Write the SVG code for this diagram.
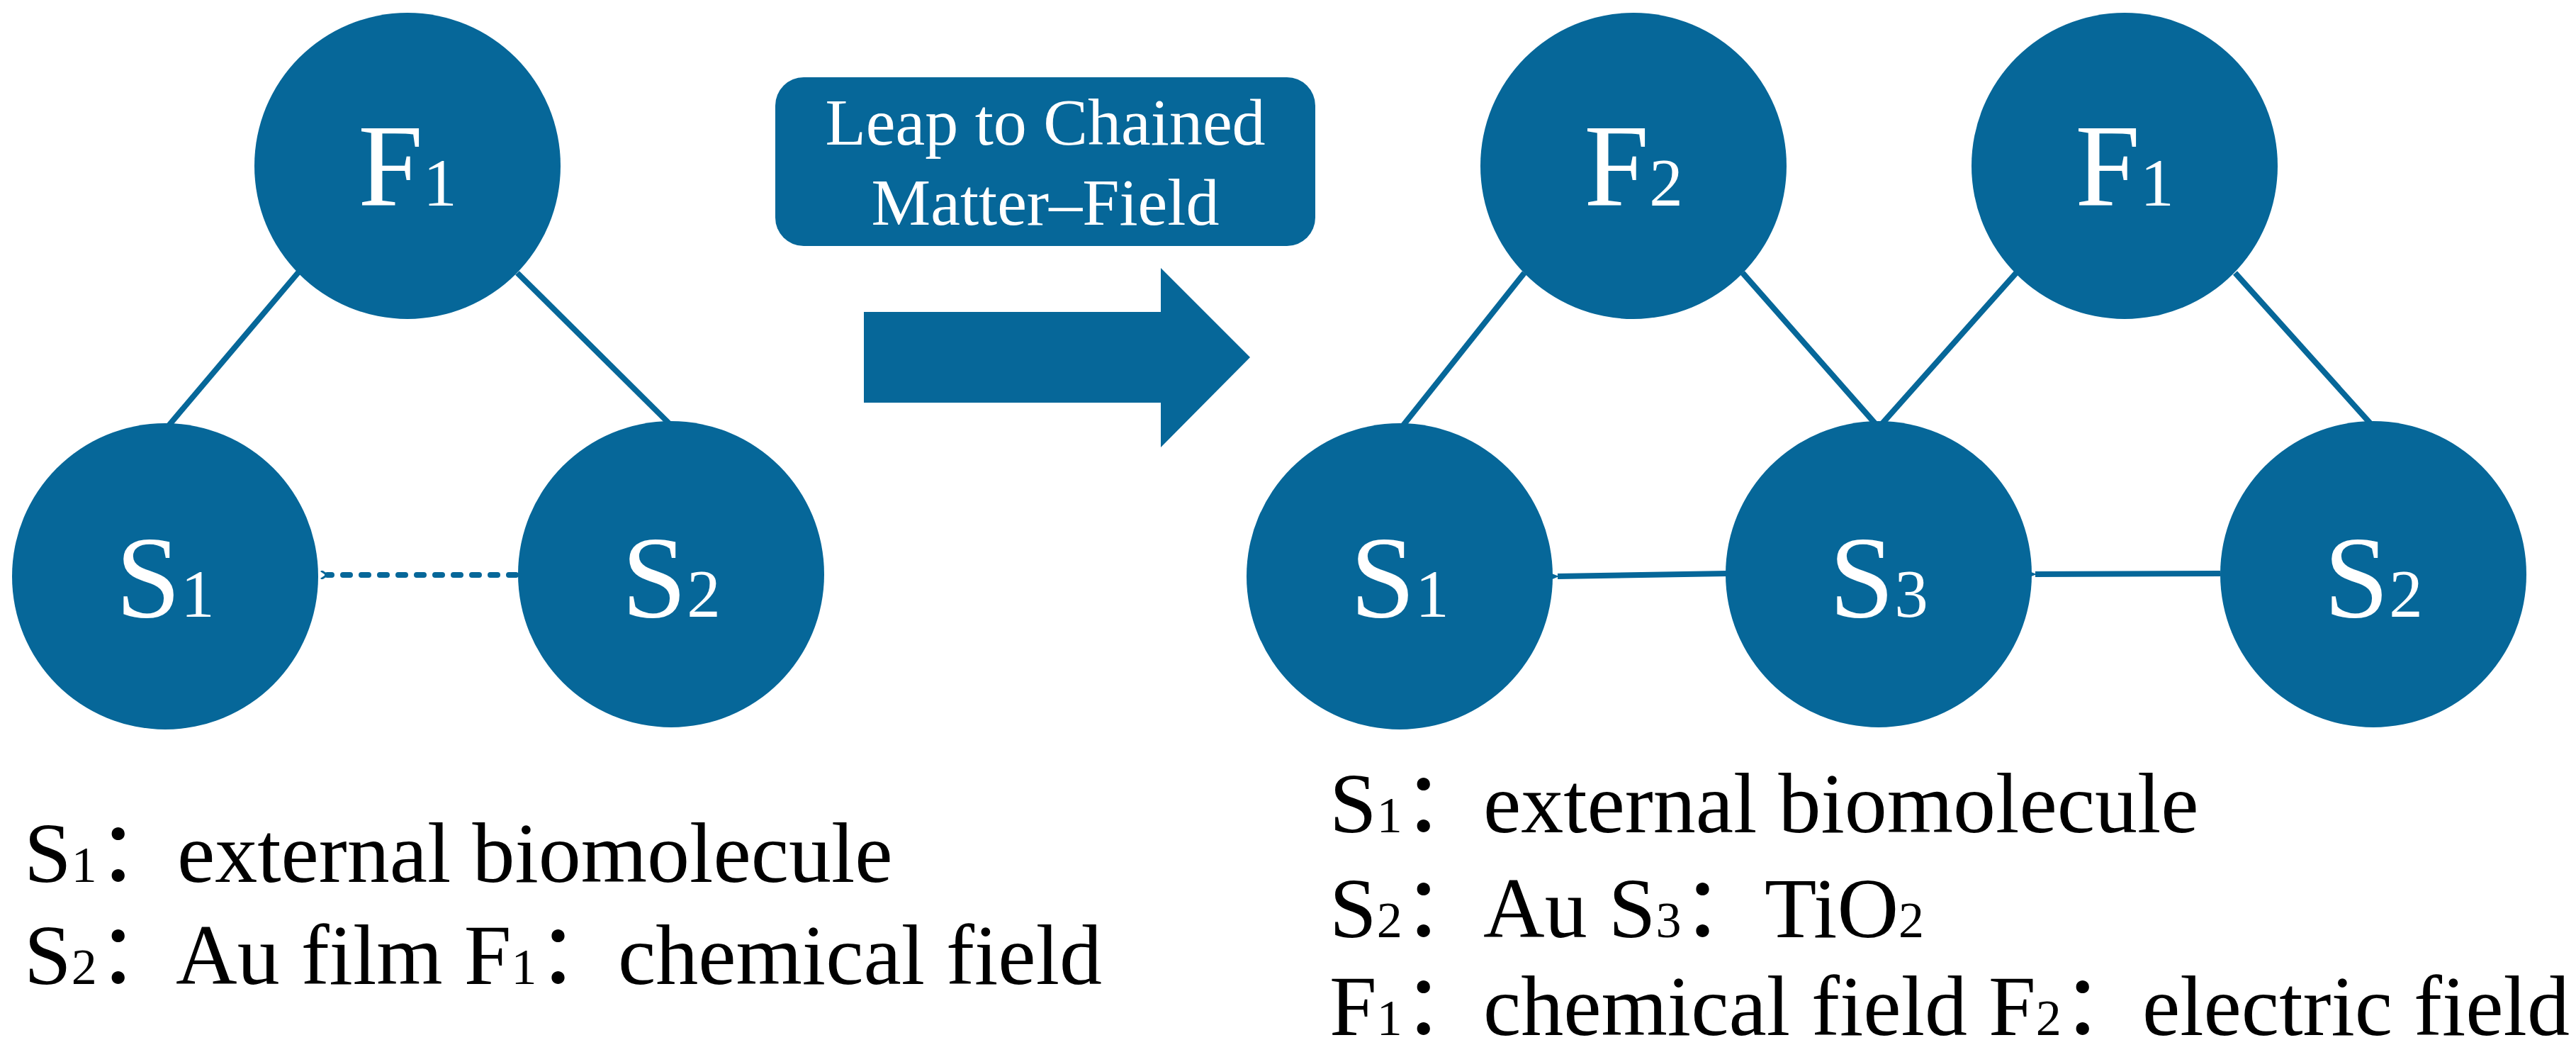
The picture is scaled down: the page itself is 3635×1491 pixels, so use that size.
<svg xmlns="http://www.w3.org/2000/svg" width="3635" height="1491" viewBox="0 0 3635 1491">
<style>
.n{fill:#066799}
.lb{font-family:"Liberation Serif","Noto Sans CJK SC",serif;font-size:165px;fill:#fff;text-anchor:middle}
.sb{font-size:95px}
.lg{font-family:"Liberation Serif","Noto Sans CJK SC",serif;font-size:120px;fill:#000}
.ls{font-size:72px}
.ln{stroke:#066799;stroke-width:8;fill:none}
.bx{font-family:"Liberation Serif",serif;font-size:94px;fill:#fff;text-anchor:middle}
</style>
<defs>
<marker id="open" markerWidth="12" markerHeight="12" refX="2" refY="6" orient="auto" markerUnits="userSpaceOnUse" viewBox="0 0 12 12"><path d="M11,0 L2,6 L11,12" fill="none" stroke="#066799" stroke-width="3"/></marker>
<marker id="fill" markerWidth="30" markerHeight="30" refX="2" refY="15" orient="auto" markerUnits="userSpaceOnUse" viewBox="0 0 30 30"><path d="M30,3 L0,15 L30,27 Z" fill="#066799"/></marker>
</defs>
<g id="connectors">
<line class="ln" x1="422" y1="383" x2="234" y2="605"/>
<line class="ln" x1="730" y1="385" x2="950" y2="603"/>
<line class="ln" x1="728" y1="811" x2="462" y2="811" stroke-dasharray="10,16" stroke-linecap="round" marker-end="url(#open)"/>
<line class="ln" x1="2151" y1="385" x2="1976" y2="605"/>
<line class="ln" x1="2459" y1="385" x2="2651" y2="603"/>
<line class="ln" x1="2845" y1="385" x2="2651" y2="603"/>
<line class="ln" x1="3154" y1="385" x2="3350" y2="603"/>
<line class="ln" x1="2437" y1="809" x2="2198" y2="813" marker-end="url(#fill)"/>
<line class="ln" x1="3133" y1="809" x2="2872" y2="810" marker-end="url(#fill)"/>
</g>
<g id="leap">
<rect class="n" x="1094" y="109" width="762" height="238" rx="40"/>
<text class="bx" x="1475" y="204">Leap to Chained</text>
<text class="bx" x="1475" y="317">Matter–Field</text>
<path class="n" d="M1219,440 H1638 V378 L1764,504 L1638,631 V568 H1219 Z"/>
</g>
<g id="L-F1"><circle class="n" cx="575" cy="234" r="216"/><text class="lb" x="575" y="290">F<tspan class="sb">1</tspan></text></g>
<g id="L-S1"><circle class="n" cx="233" cy="813" r="216"/><text class="lb" x="233" y="870">S<tspan class="sb">1</tspan></text></g>
<g id="L-S2"><circle class="n" cx="947" cy="810" r="216"/><text class="lb" x="947" y="870">S<tspan class="sb">2</tspan></text></g>
<g id="R-F2"><circle class="n" cx="2305" cy="234" r="216"/><text class="lb" x="2305" y="290">F<tspan class="sb">2</tspan></text></g>
<g id="R-F1"><circle class="n" cx="2998" cy="234" r="216"/><text class="lb" x="2998" y="290">F<tspan class="sb">1</tspan></text></g>
<g id="R-S1"><circle class="n" cx="1975" cy="813" r="216"/><text class="lb" x="1975" y="870">S<tspan class="sb">1</tspan></text></g>
<g id="R-S3"><circle class="n" cx="2651" cy="810" r="216"/><text class="lb" x="2651" y="870">S<tspan class="sb">3</tspan></text></g>
<g id="R-S2"><circle class="n" cx="3349" cy="810" r="216"/><text class="lb" x="3349" y="870">S<tspan class="sb">2</tspan></text></g>
<g id="legend-left">
<text class="lg" x="34" y="1244">S<tspan class="ls">1</tspan>：<tspan x="250">external biomolecule</tspan></text>
<text class="lg" x="34" y="1388">S<tspan class="ls">2</tspan>：<tspan x="248">Au film F</tspan><tspan class="ls">1</tspan>：<tspan x="872">chemical field</tspan></text>
</g>
<g id="legend-right">
<text class="lg" x="1876" y="1174">S<tspan class="ls">1</tspan>：<tspan x="2093">external biomolecule</tspan></text>
<text class="lg" x="1876" y="1322">S<tspan class="ls">2</tspan>：<tspan x="2093">Au S</tspan><tspan class="ls">3</tspan>：<tspan x="2490">TiO</tspan><tspan class="ls">2</tspan></text>
<text class="lg" x="1876" y="1460">F<tspan class="ls">1</tspan>：<tspan x="2093">chemical field F</tspan><tspan class="ls">2</tspan>：<tspan x="3023">electric field</tspan></text>
</g>
</svg>
